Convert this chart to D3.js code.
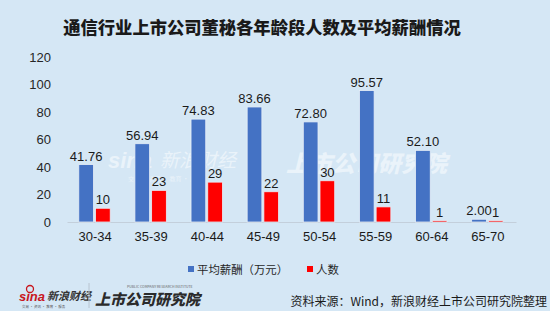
<!DOCTYPE html>
<html>
<head>
<meta charset="utf-8">
<script src="https://cdn.jsdelivr.net/npm/d3@7"></script>
<style>
  body { margin: 0; background: #d5e7f5; }
  svg { display: block; font-family: "Noto Sans CJK SC", "Noto Sans", sans-serif; }
</style>
</head>
<body>
<div id="chart"></div>
<script>
// data
var categories = ["30-34", "35-39", "40-44", "45-49", "50-54", "55-59", "60-64", "65-70"];
var salary = [41.76, 56.94, 74.83, 83.66, 72.80, 95.57, 52.10, 2.00];   // 平均薪酬（万元）
var people = [10, 23, 29, 22, 30, 11, 1, 1];                            // 人数
var yTicks = [0, 20, 40, 60, 80, 100, 120];
var seriesNames = ["平均薪酬（万元）", "人数"];
var seriesColors = ["#4472c4", "#ff0000"];

function init() {
  var w = 550, h = 311;
  var svg = d3.select("#chart").append("svg")
    .attr("width", w)
    .attr("height", h);

  svg.append("rect").attr("width", w).attr("height", h).attr("fill", "#d5e7f5");

  // title
  svg.append("text")
    .attr("x", 262).attr("y", 34)
    .attr("text-anchor", "middle")
    .attr("font-size", "17.3px")
    .attr("font-weight", 900)
    .attr("fill", "#1a1a1a")
    .text("通信行业上市公司董秘各年龄段人数及平均薪酬情况");

  // faint watermark
  var wm = svg.append("g").attr("fill", "#ffffff").attr("opacity", 0.5);
  wm.append("text").attr("x", 108).attr("y", 168)
    .attr("font-size", "22px").attr("font-weight", 900).attr("font-style", "italic")
    .attr("font-family", "Liberation Sans").text("sina");
  wm.append("text").attr("x", 160).attr("y", 167)
    .attr("font-size", "19px").attr("font-style", "italic").text("新浪财经");
  wm.append("text").attr("x", 128).attr("y", 181)
    .attr("font-size", "6px").text("交易 · 资讯 · 教育 · 服务");
  wm.append("text").attr("x", 286).attr("y", 172)
    .attr("font-size", "23px").attr("font-weight", 900).attr("font-style", "italic")
    .text("上市公司研究院");

  // scales
  var x = d3.scaleBand().domain(categories).range([67, 516]);
  var x1 = d3.scaleBand().domain([0, 1])
    .range([x.bandwidth() * 0.21, x.bandwidth() * 0.77]).paddingInner(0.12);
  var y = d3.scaleLinear().domain([0, 120]).range([222, 57]);

  // y axis labels
  var yAxis = d3.axisLeft(y).tickValues(yTicks).tickSize(0).tickPadding(0);
  var gy = svg.append("g").attr("transform", "translate(51,0)").call(yAxis);
  gy.select(".domain").remove();
  gy.selectAll("text").attr("font-size", "13px").attr("fill", "#262626")
    .attr("font-family", "Liberation Sans, sans-serif");

  // x axis
  var xAxis = d3.axisBottom(x).tickSize(0).tickPadding(10);
  var gx = svg.append("g").attr("transform", "translate(0,222)").call(xAxis);
  gx.select(".domain").attr("stroke", "#c3cfdb");
  gx.selectAll("text").attr("font-size", "13px").attr("fill", "#1a1a1a")
    .attr("font-family", "Liberation Sans, sans-serif");

  var series = [salary, people];
  series.forEach(function(vals, s) {
    var g = svg.append("g");
    g.selectAll("rect")
      .data(vals)
      .enter()
      .append("rect")
      .attr("x", function(d, i) { return x(categories[i]) + x1(s); })
      .attr("y", function(d) { return y(d); })
      .attr("width", x1.bandwidth())
      .attr("height", function(d) { return y(0) - y(d); })
      .attr("fill", seriesColors[s])
      .attr("stroke", "#e6eef7")
      .attr("stroke-width", 0.8);

    g.selectAll("text")
      .data(vals)
      .enter()
      .append("text")
      .text(function(d) { return s == 0 ? d.toFixed(2) : d; })
      .attr("x", function(d, i) { return x(categories[i]) + x1(s) + x1.bandwidth() / 2; })
      .attr("y", function(d) { return y(d) - 4; })
      .attr("text-anchor", "middle")
      .attr("font-size", "13px")
      .attr("font-family", "Liberation Sans, sans-serif")
      .attr("fill", "#1a1a1a");
  });

  // legend
  var legendX = [188, 307];
  seriesNames.forEach(function(name, s) {
    svg.append("rect").attr("x", legendX[s]).attr("y", 266)
      .attr("width", 6).attr("height", 6).attr("fill", seriesColors[s]);
    svg.append("text").attr("x", legendX[s] + 9).attr("y", 274)
      .attr("font-size", "11.4px").attr("fill", "#262626").text(name);
  });

  // footer logos
  svg.append("text").attr("x", 19).attr("y", 301)
    .attr("font-size", "13px").attr("font-weight", 900).attr("font-style", "italic")
    .attr("font-family", "Liberation Sans").attr("fill", "#c8161d").text("sina");
  svg.append("circle").attr("cx", 30).attr("cy", 289).attr("r", 3.5)
    .attr("fill", "none").attr("stroke", "#c8161d").attr("stroke-width", 1.3);
  svg.append("text").attr("x", 47).attr("y", 300)
    .attr("font-size", "11px").attr("font-style", "italic").attr("font-weight", 700)
    .attr("fill", "#333").text("新浪财经");
  svg.append("text").attr("x", 22).attr("y", 308)
    .attr("font-size", "3.5px").attr("fill", "#555").text("交易 · 资讯 · 教育 · 服务");
  svg.append("line").attr("x1", 89).attr("x2", 89).attr("y1", 283).attr("y2", 308)
    .attr("stroke", "#b8c4d0");
  svg.append("text").attr("x", 127).attr("y", 288)
    .attr("font-size", "3.5px").attr("fill", "#666")
    .text("PUBLIC COMPANY RESEARCH INSTITUTE");
  svg.append("text").attr("x", 95).attr("y", 305)
    .attr("font-size", "15px").attr("font-weight", 900).attr("font-style", "italic")
    .attr("fill", "#2b2b2b").text("上市公司研究院");

  // source
  svg.append("text").attr("x", 547).attr("y", 306)
    .attr("text-anchor", "end")
    .attr("font-size", "12px").attr("fill", "#1a1a1a")
    .text("资料来源：Wind，新浪财经上市公司研究院整理");
}
window.onload = init;
</script>
</body>
</html>
